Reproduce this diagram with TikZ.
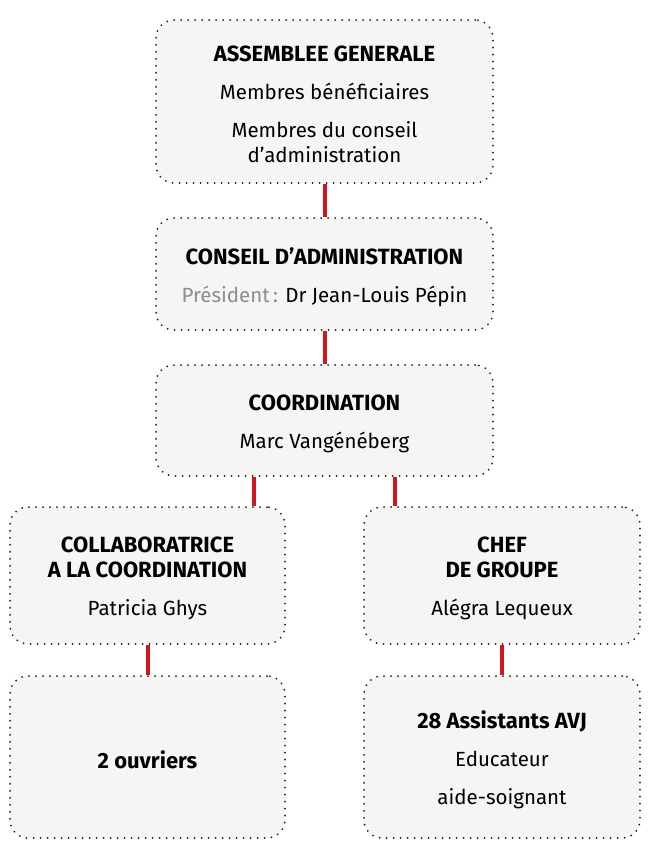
\documentclass[tikz,border=0pt]{standalone}
\usepackage{fontspec}
\setmainfont{Fira Sans}
\usetikzlibrary{calc,positioning}
\definecolor{linkred}{RGB}{208,22,30}
\definecolor{boxfill}{RGB}{245,245,245}
\definecolor{dotgray}{RGB}{30,30,30}
\definecolor{labelgray}{RGB}{140,140,140}
\newcommand{\hd}[1]{{\fontsize{22}{25}\selectfont\bfseries #1}}

\begin{document}
\begin{tikzpicture}[x=1pt,y=-1pt,
 orgbox/.style={draw=dotgray,fill=boxfill,rounded corners=18pt,
 line width=2pt,line cap=round,dash pattern=on 0pt off 7pt,inner sep=0pt},
 boxtext/.style={align=center,inner sep=0pt,yshift=-3pt,
 font=\fontsize{20.5}{25}\selectfont},
 link/.style={linkred,line width=4pt}]
 \useasboundingbox (0,0) rectangle (650,856);
 \node[orgbox,minimum width=337pt,minimum height=163pt,
  label={[boxtext]center:\hd{ASSEMBLEE GENERALE}\\[13pt]Membres bénéficiaires\\[13pt]Membres du conseil\\d’administration}]
  (ag) at (324.5,101.5) {};
 \node[orgbox,minimum width=337pt,minimum height=112pt,
  label={[boxtext]center:\hd{CONSEIL D’ADMINISTRATION}\\[13pt]\textcolor{labelgray}{Président\,:} Dr Jean-Louis Pépin}]
  (ca) at (324.5,274) {};
 \node[orgbox,minimum width=337pt,minimum height=111pt,
  label={[boxtext]center:\hd{COORDINATION}\\[13pt]Marc Vangénéberg}]
  (coord) at (324.5,420.5) {};
 \node[orgbox,minimum width=275pt,minimum height=137pt,
  label={[boxtext]center:\hd{COLLABORATRICE}\\\hd{A LA COORDINATION}\\[13pt]Patricia Ghys}]
  (collab) at (147.5,575.5) {};
 \node[orgbox,minimum width=276pt,minimum height=137pt,
  label={[boxtext]center:\hd{CHEF}\\\hd{DE GROUPE}\\[13pt]Alégra Lequeux}]
  (chef) at (502,575.5) {};
 \node[orgbox,minimum width=275pt,minimum height=162pt,
  label={[boxtext]center:\hd{2 ouvriers}}]
  (ouv) at (147.5,757) {};
 \node[orgbox,minimum width=276pt,minimum height=162pt,
  label={[boxtext]center:\hd{28 Assistants AVJ}\\[13pt]Educateur\\[13pt]aide-soignant}]
  (avj) at (502,757) {};
 % connectors
 \foreach \a/\b in {ag/ca,ca/coord,collab/ouv,chef/avj}
   \draw[link] (\a.south) -- (\b.north);
 \draw[link] ([xshift=-71pt]coord.south) -- ([xshift=-71pt]coord.south |- collab.north);
 \draw[link] ([xshift=70pt]coord.south) -- ([xshift=70pt]coord.south |- chef.north);
\end{tikzpicture}
\end{document}
